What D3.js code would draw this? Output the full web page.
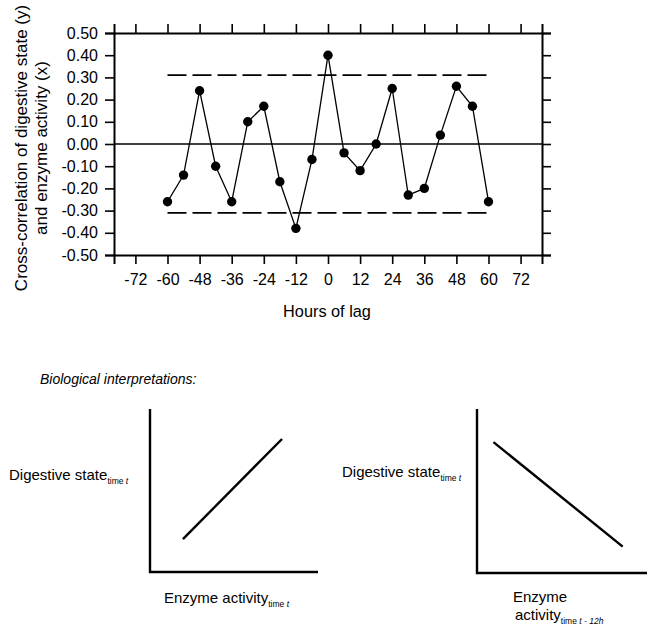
<!DOCTYPE html>
<html>
<head>
<meta charset="utf-8">
<script src="https://cdn.jsdelivr.net/npm/d3@7"></script>
<style>
  body { margin: 0; background: #fff; }
  svg { display: block; font-family: "Liberation Sans", Arial, sans-serif; }
</style>
</head>
<body>
<div id="chart"></div>
<script>
// Cross-correlation data, lag in hours
const lags = [-60, -54, -48, -42, -36, -30, -24, -18, -12, -6, 0, 6, 12, 18, 24, 30, 36, 42, 48, 54, 60];
const corr = [-0.26, -0.14, 0.24, -0.10, -0.26, 0.10, 0.17, -0.17, -0.38, -0.07, 0.40, -0.04, -0.12, 0.00, 0.25, -0.23, -0.20, 0.04, 0.26, 0.17, -0.26];
const xTicks = [-72, -60, -48, -36, -24, -12, 0, 12, 24, 36, 48, 60, 72];
const yTicks = [-0.5, -0.4, -0.3, -0.2, -0.1, 0, 0.1, 0.2, 0.3, 0.4, 0.5];
const confLimit = 0.31;
const confRange = [-60, 60];

// sketch panels: relationship lines in unit coordinates
const sketchPositive = [[0.196, 0.202], [0.786, 0.816]];
const sketchNegative = [[0.097, 0.798], [0.857, 0.161]];

const width = 653, height = 625;

const svg = d3.select('#chart')
    .append('svg')
    .attr('width', width)
    .attr('height', height);

// plain hyphen for negatives, like the original
const fmtY = v => d3.format('.2f')(v).replace('\u2212', '-');
const fmtX = v => String(v);

// ---- main chart ----
const frame = { l: 114, r: 542, t: 33, b: 255 };

const x = d3.scaleLinear().domain([-80, 80]).range([frame.l, frame.r]);
const y = d3.scaleLinear().domain([-0.5, 0.5]).range([frame.b, frame.t]);

const plot = svg.append('g');

// left axis with labels
plot.append('g')
    .attr('transform', `translate(${frame.l},0)`)
    .call(d3.axisLeft(y).tickValues(yTicks).tickFormat(fmtY).tickSize(9).tickPadding(7))
    .call(g => g.selectAll('text').attr('font-size', 16).attr('fill', '#000'));

// right axis, ticks only
plot.append('g')
    .attr('transform', `translate(${frame.r},0)`)
    .call(d3.axisRight(y).tickValues(yTicks).tickFormat('').tickSize(9));

// bottom axis with labels
plot.append('g')
    .attr('transform', `translate(0,${frame.b})`)
    .call(d3.axisBottom(x).tickValues(xTicks).tickFormat(fmtX).tickSize(9).tickPadding(10))
    .call(g => g.selectAll('text').attr('font-size', 16).attr('fill', '#000'));

// top axis, ticks only
plot.append('g')
    .attr('transform', `translate(0,${frame.t})`)
    .call(d3.axisTop(x).tickValues(xTicks).tickFormat('').tickSize(9));

plot.selectAll('.domain').attr('stroke', '#000').attr('stroke-width', 2);
plot.selectAll('.tick line').attr('stroke', '#000').attr('stroke-width', 1.6);

// zero line
plot.append('line')
    .attr('x1', frame.l).attr('x2', frame.r)
    .attr('y1', y(0)).attr('y2', y(0))
    .attr('stroke', '#000').attr('stroke-width', 1.4);

// confidence limits
[confLimit, -confLimit].forEach(v => {
    plot.append('line')
        .attr('x1', x(confRange[0])).attr('x2', x(confRange[1]))
        .attr('y1', y(v)).attr('y2', y(v))
        .attr('stroke', '#000').attr('stroke-width', 1.8)
        .attr('stroke-dasharray', '19,6');
});

const pts = lags.map((d, i) => [d, corr[i]]);

plot.append('path')
    .datum(pts)
    .attr('fill', 'none')
    .attr('stroke', '#000')
    .attr('stroke-width', 1.3)
    .attr('d', d3.line().x(d => x(d[0])).y(d => y(d[1])));

plot.selectAll('circle')
    .data(pts)
    .enter()
    .append('circle')
    .attr('cx', d => x(d[0]))
    .attr('cy', d => y(d[1]))
    .attr('r', 4.7)
    .attr('fill', '#000');

// axis titles
const yTitle = plot.append('text')
    .attr('transform', 'translate(27,148) rotate(-90)')
    .attr('text-anchor', 'middle')
    .attr('font-size', 17);
yTitle.append('tspan').attr('x', 0).attr('y', 0).text('Cross-correlation of digestive state (y)');
yTitle.append('tspan').attr('x', 0).attr('y', 20).text('and enzyme activity (x)');

plot.append('text')
    .attr('x', (frame.l + frame.r) / 2 - 1)
    .attr('y', 317)
    .attr('text-anchor', 'middle')
    .attr('font-size', 16.3)
    .text('Hours of lag');

// ---- biological interpretations ----
svg.append('text')
    .attr('x', 40).attr('y', 384)
    .attr('font-size', 14)
    .attr('font-style', 'italic')
    .text('Biological interpretations:');

function sketch(x0, x1, y0, y1, pair) {
    const sx = d3.scaleLinear().domain([0, 1]).range([x0, x1]);
    const sy = d3.scaleLinear().domain([0, 1]).range([y1, y0]);
    const g = svg.append('g');
    g.append('path')
        .attr('d', `M${x0},${y0}V${y1}H${x1}`)
        .attr('fill', 'none').attr('stroke', '#000').attr('stroke-width', 2.4);
    g.append('line')
        .attr('x1', sx(pair[0][0])).attr('y1', sy(pair[0][1]))
        .attr('x2', sx(pair[1][0])).attr('y2', sy(pair[1][1]))
        .attr('stroke', '#000').attr('stroke-width', 2.4);
}

function subLabel(xp, yp, main, sub) {
    const t = svg.append('text').attr('x', xp).attr('y', yp).attr('font-size', 15);
    t.append('tspan').text(main);
    const s = t.append('tspan').attr('font-size', 8.5).attr('dy', 4);
    sub.forEach(part => {
        s.append('tspan').attr('font-style', part.it ? 'italic' : 'normal').text(part.t);
    });
    return t;
}

// left panel
sketch(150, 318, 409, 572, sketchPositive);
subLabel(9, 480, 'Digestive state', [{ t: 'time ' }, { t: 't', it: true }]);
subLabel(164, 603, 'Enzyme activity', [{ t: 'time ' }, { t: 't', it: true }]);

// right panel
sketch(477, 647, 409, 573, sketchNegative);
subLabel(342, 477, 'Digestive state', [{ t: 'time ' }, { t: 't', it: true }]);
svg.append('text').attr('x', 513).attr('y', 602).attr('font-size', 15).text('Enzyme');
subLabel(515, 620, 'activity', [{ t: 'time ' }, { t: 't - 12h', it: true }]);
</script>
</body>
</html>
